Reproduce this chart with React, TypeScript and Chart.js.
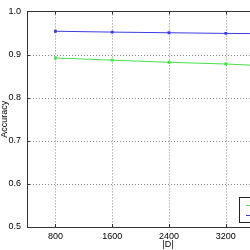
import React, { useEffect, useRef } from "react";
import { Chart, registerables } from "chart.js";

Chart.register(...registerables);

const sizes = [800, 1600, 2400, 3200, 4000];
const seriesA = [0.892, 0.887, 0.882, 0.878, 0.872];
const seriesB = [0.954, 0.952, 0.9505, 0.949, 0.948];
const seriesNames = ["Method 1", "Method 2"];
const xTicks = [800, 1600, 2400, 3200, 4000];
const yTicks = [0.5, 0.6, 0.7, 0.8, 0.9, 1.0];
const xTitle = "|D|";
const yTitle = "Accuracy";

const GREEN = "rgb(70,225,70)";
const BLUE = "rgb(60,60,225)";
const FONT = "'Liberation Sans', Arial, sans-serif";

const W = 330;
const H = 250;

const gridPlugin = {
  id: "gridPlugin",
  beforeDatasetsDraw(chart: any) {
    const { ctx, chartArea: a } = chart;
    const xs = chart.scales.x;
    const ys = chart.scales.y;
    ctx.save();
    ctx.strokeStyle = "#8a8a8a";
    ctx.lineWidth = 1;
    ctx.setLineDash([1, 2]);
    ctx.beginPath();
    xTicks.forEach((v) => {
      const px = Math.round(xs.getPixelForValue(v)) + 0.5;
      ctx.moveTo(px, a.top);
      ctx.lineTo(px, a.bottom);
    });
    yTicks.forEach((v) => {
      const py = Math.round(ys.getPixelForValue(v)) + 0.5;
      ctx.moveTo(a.left, py);
      ctx.lineTo(a.right, py);
    });
    ctx.stroke();
    ctx.restore();
  },
  afterDraw(chart: any) {
    const { ctx, chartArea: a } = chart;
    ctx.save();
    ctx.strokeStyle = "#333";
    ctx.lineWidth = 1;
    ctx.strokeRect(Math.round(a.left) + 0.5, Math.round(a.top) + 0.5, Math.round(a.right - a.left), Math.round(a.bottom - a.top));
    const xs = chart.scales.x;
    const ys = chart.scales.y;
    ctx.beginPath();
    xTicks.forEach((v) => {
      const px = Math.round(xs.getPixelForValue(v)) + 0.5;
      ctx.moveTo(px, a.bottom); ctx.lineTo(px, a.bottom - 3);
      ctx.moveTo(px, a.top); ctx.lineTo(px, a.top + 3);
    });
    yTicks.forEach((v) => {
      const py = Math.round(ys.getPixelForValue(v)) + 0.5;
      ctx.moveTo(a.left, py); ctx.lineTo(a.left + 3, py);
      ctx.moveTo(a.right, py); ctx.lineTo(a.right - 3, py);
    });
    ctx.stroke();
    // axis titles
    ctx.fillStyle = "#000";
    ctx.font = "9px " + FONT;
    ctx.textAlign = "center";
    ctx.textBaseline = "middle";
    ctx.fillText(xTitle, (a.left + a.right) / 2 - 1, 245);
    ctx.save();
    ctx.translate(5, (a.top + a.bottom) / 2);
    ctx.rotate(-Math.PI / 2);
    ctx.fillText(yTitle, 0, 0);
    ctx.restore();
    // legend box
    const lx = 239.5, ly = 197.5, lw = 66, lh = 25;
    ctx.fillStyle = "#fff";
    ctx.fillRect(lx, ly, lw, lh);
    ctx.strokeStyle = "#222";
    ctx.strokeRect(lx, ly, lw, lh);
    const cols = [GREEN, BLUE];
    const rows = [205, 215];
    ctx.textAlign = "left";
    cols.forEach((c, i) => {
      ctx.strokeStyle = c;
      ctx.beginPath();
      ctx.moveTo(246, rows[i] + 0.5);
      ctx.lineTo(262, rows[i] + 0.5);
      ctx.stroke();
      ctx.fillStyle = "#000";
      ctx.fillText(seriesNames[i], 265, rows[i]);
    });
    ctx.restore();
  },
};

export default function App() {
  const ref = useRef<HTMLCanvasElement>(null);
  useEffect(() => {
    const chart = new Chart(ref.current!, {
      type: "line",
      data: {
        datasets: [
          {
            label: seriesNames[0],
            data: sizes.map((x, i) => ({ x, y: seriesA[i] })),
            borderColor: GREEN,
            backgroundColor: GREEN,
            borderWidth: 1,
            pointStyle: "rect",
            pointRadius: 2,
            pointBorderWidth: 0,
          },
          {
            label: seriesNames[1],
            data: sizes.map((x, i) => ({ x, y: seriesB[i] })),
            borderColor: BLUE,
            backgroundColor: BLUE,
            borderWidth: 1,
            pointStyle: "rect",
            pointRadius: 2,
            pointBorderWidth: 0,
          },
        ],
      },
      options: {
        animation: false,
        responsive: false,
        layout: { padding: { left: 0, top: 4, right: W - 311, bottom: 0 } },
        plugins: { legend: { display: false }, tooltip: { enabled: false } },
        scales: {
          x: {
            type: "linear",
            min: 400,
            max: 4400,
            afterBuildTicks: (s: any) => {
              s.ticks = xTicks.map((v) => ({ value: v }));
            },
            afterFit: (s: any) => {
              s.height = 23;
            },
            grid: { display: false, drawTicks: false },
            border: { display: false },
            ticks: {
              color: "#000",
              font: { family: FONT, size: 9 },
              padding: 4,
              maxRotation: 0,
              callback: (v: any) => String(v),
            },
          },
          y: {
            min: 0.5,
            max: 1.0,
            afterBuildTicks: (s: any) => {
              s.ticks = yTicks.map((v) => ({ value: v }));
            },
            afterFit: (s: any) => {
              s.width = 27;
            },
            grid: { display: false, drawTicks: false },
            border: { display: false },
            ticks: {
              color: "#000",
              font: { family: FONT, size: 9 },
              padding: 6,
              callback: (v: any) => Number(v).toFixed(1),
            },
          },
        },
      },
      plugins: [gridPlugin],
    });
    return () => chart.destroy();
  }, []);
  return (
    <div style={{ position: "fixed", left: 0, top: 0, width: 250, height: 250, overflow: "hidden", background: "#fff" }}>
      <canvas ref={ref} width={W} height={H} style={{ display: "block" }} />
    </div>
  );
}
